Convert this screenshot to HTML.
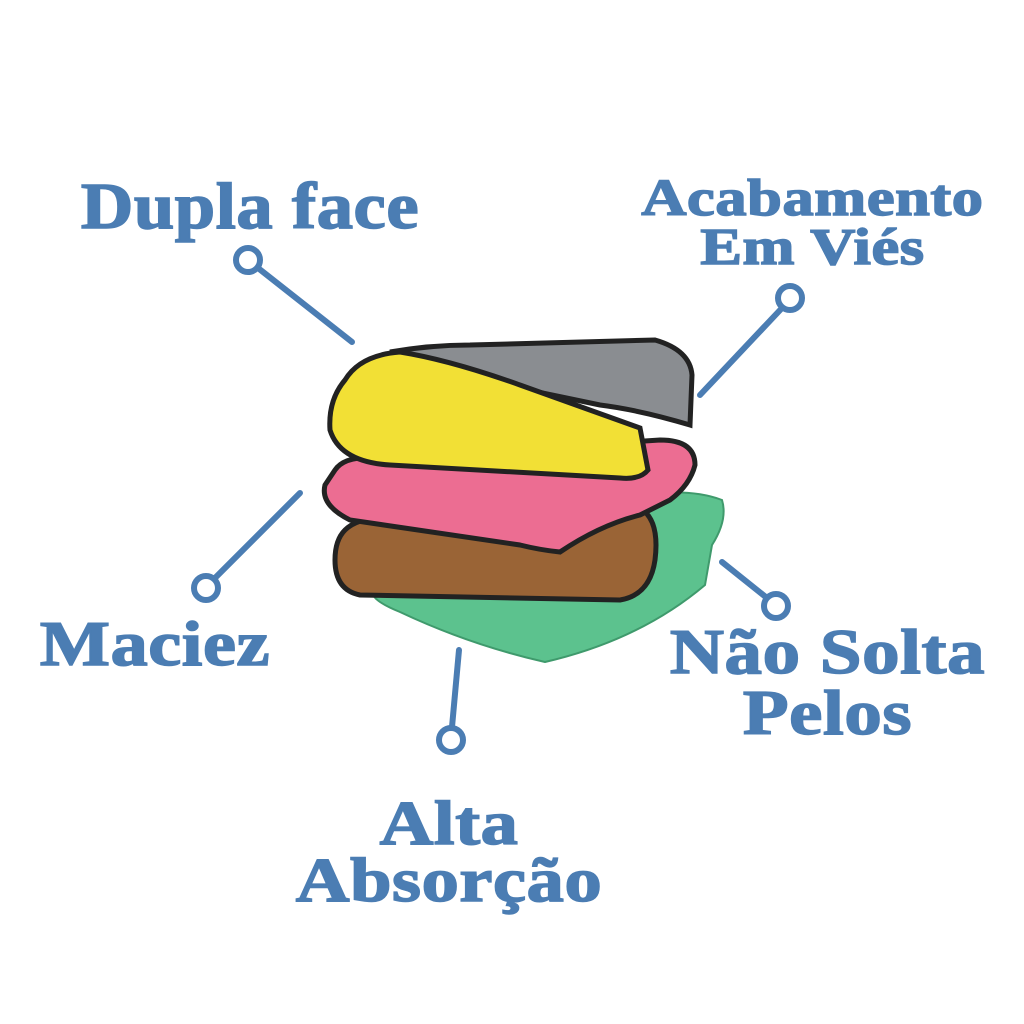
<!DOCTYPE html>
<html><head><meta charset="utf-8"><style>
html,body{margin:0;padding:0;background:#fff;}
body{width:1024px;height:1024px;position:relative;overflow:hidden;}
.t{position:absolute;font-family:"Liberation Serif",serif;font-weight:bold;color:#4b7db3;white-space:nowrap;line-height:1;text-align:center;letter-spacing:0.5px;-webkit-text-stroke:1.5px #4b7db3;transform-origin:50% 0;}
svg{position:absolute;left:0;top:0;}
</style></head><body>
<svg width="1024" height="1024" viewBox="0 0 1024 1024">
  <path d="M640,495 Q690,488 722,500 Q728,520 712,545 L705,585 Q640,640 545,662 Q470,645 400,612 Q370,600 372,590 L600,600 L650,560 Z" fill="#5cc28e" stroke="#3f9a6c" stroke-width="2"/>
  <path d="M345,530 Q360,515 400,518 L640,508 Q660,520 655,560 Q650,595 620,600 L360,595 Q335,590 335,560 Q335,540 345,530 Z" fill="#9a6436" stroke="#222" stroke-width="5"/>
  <path d="M335,470 Q345,455 380,458 L660,440 Q695,440 695,465 Q690,485 670,500 L640,515 Q600,525 560,552 Q540,550 520,545 L350,520 Q320,505 325,485 Z" fill="#ec6d92" stroke="#222" stroke-width="5"/>
  <path d="M390,352 Q430,345 470,345 L655,340 Q690,350 692,375 L690,425 Q640,410 600,405 L480,380 Z" fill="#8a8d91" stroke="#222" stroke-width="5"/>
  <path d="M345,380 Q360,355 400,352 Q450,360 520,385 L640,428 L648,470 Q640,480 620,478 L390,465 Q340,462 330,430 Q328,400 345,380 Z" fill="#f2e035" stroke="#222" stroke-width="5"/>
  <g stroke="#4b7db3" stroke-width="6" fill="#fff" stroke-linecap="round">
    <line x1="258" y1="268" x2="352" y2="342"/>
    <circle cx="248" cy="260" r="12"/>
    <line x1="782" y1="308" x2="700" y2="395"/>
    <circle cx="790" cy="298" r="12"/>
    <line x1="300" y1="493" x2="215" y2="578"/>
    <circle cx="206" cy="588" r="12"/>
    <line x1="722" y1="562" x2="767" y2="598"/>
    <circle cx="776" cy="606" r="12"/>
    <line x1="459" y1="650" x2="452" y2="727"/>
    <circle cx="451" cy="740" r="12"/>
  </g>
</svg>
<div class="t" style="left:80px;top:174px;width:340px;font-size:66px;transform:scaleX(1.1);">Dupla face</div>
<div class="t" style="left:630px;top:174px;width:365px;font-size:52px;line-height:0.95;transform:scaleX(1.2);">Acabamento<br>Em Viés</div>
<div class="t" style="left:40px;top:612px;width:230px;font-size:64px;transform:scaleX(1.16);">Maciez</div>
<div class="t" style="left:665px;top:622px;width:325px;font-size:64px;line-height:0.95;transform:scaleX(1.17);">Não Solta<br>Pelos</div>
<div class="t" style="left:290px;top:796px;width:318px;font-size:62px;line-height:0.92;transform:scaleX(1.2);">Alta<br>Absorção</div>
</body></html>
